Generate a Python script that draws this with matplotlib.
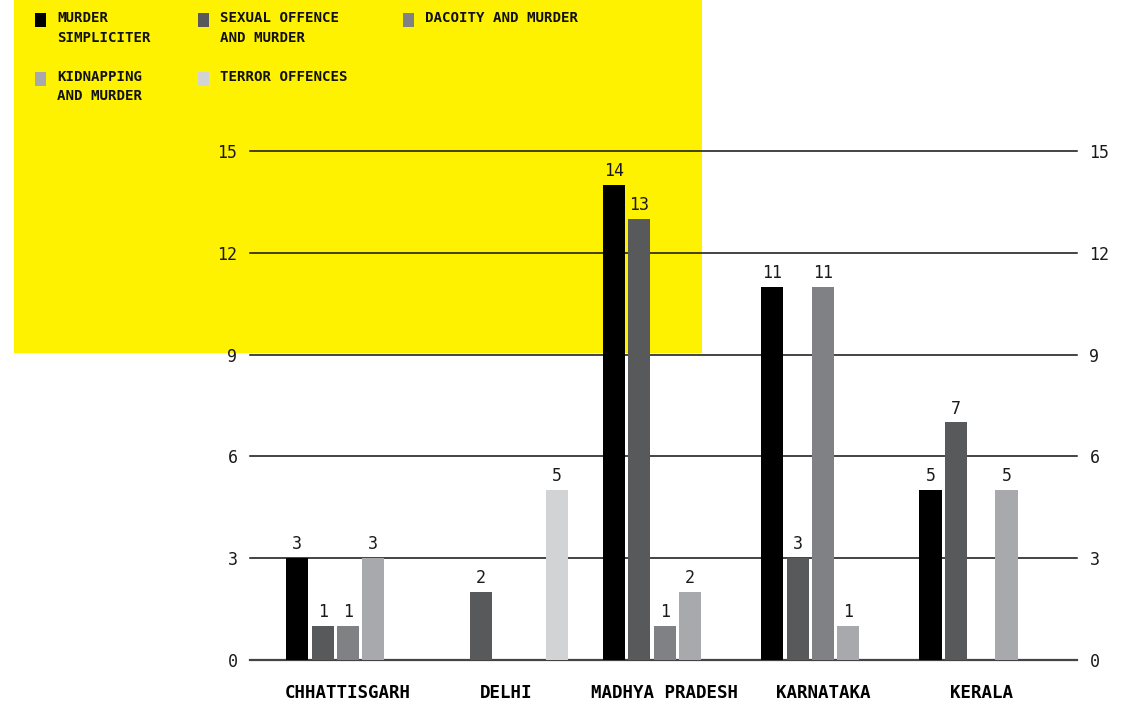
import matplotlib
matplotlib.use("Agg")
import matplotlib.pyplot as plt
from matplotlib.patches import Rectangle
import numpy as np

states = ["CHHATTISGARH", "DELHI", "MADHYA PRADESH", "KARNATAKA", "KERALA"]
series = ["MURDER\nSIMPLICITER", "SEXUAL OFFENCE\nAND MURDER", "DACOITY AND MURDER",
          "KIDNAPPING\nAND MURDER", "TERROR OFFENCES"]
murder_simpliciter = [3, 0, 14, 11, 5]
sexual_offence = [1, 2, 13, 3, 7]
dacoity = [1, 0, 1, 11, 0]
kidnapping = [3, 0, 2, 1, 5]
terror = [0, 5, 0, 0, 0]
values = [murder_simpliciter, sexual_offence, dacoity, kidnapping, terror]
colors = ["#000000", "#58595b", "#808184", "#a7a9ac", "#d1d3d4"]
yticks = [0, 3, 6, 9, 12, 15]

W, H = 1133, 702
fig = plt.figure(figsize=(W / 100, H / 100), dpi=100)
fig.patch.set_facecolor("white")

# yellow panel behind chart
fig.patches.append(Rectangle((14 / W, 1 - 353 / H), (702 - 14) / W, 353 / H,
                             transform=fig.transFigure, facecolor="#fff200",
                             edgecolor="none", zorder=0))

ax = fig.add_axes([250 / W, 1 - 660 / H, (1077 - 250) / W, (660 - 151) / H])
ax.set_facecolor("none")
ax.set_zorder(2)

mono = "DejaVu Sans Mono"
x = np.arange(len(states))
step = 0.16
bw = 0.14
for j, (vals, col) in enumerate(zip(values, colors)):
    pos = x + (j - 2) * step
    ax.bar(pos, vals, width=bw, color=col, zorder=3)
    for p, v in zip(pos, vals):
        if v > 0:
            ax.annotate(str(v), (p, v), xytext=(0, 3.5), textcoords="offset points",
                        ha="center", va="bottom", fontsize=12, family=mono,
                        color="#1a1a1a", zorder=4)

ax.set_xlim(-0.619, 4.605)
ax.set_ylim(0, 15)
ax.set_yticks(yticks)
ax.set_yticklabels([str(t) for t in yticks])
ax.set_xticks(x)
ax.set_xticklabels(states, fontsize=12.6, fontweight="bold", family=mono)
for s in ax.spines.values():
    s.set_visible(False)
ax.tick_params(axis="x", length=0, pad=17)
ax.tick_params(axis="y", length=0, labelsize=12, labelleft=True, labelright=True,
               labelcolor="#1a1a1a")
for lab in ax.get_yticklabels():
    lab.set_family(mono)
ax.yaxis.set_tick_params(which="major", pad=9)
ax.grid(axis="y", color="#111111", linewidth=1.1, zorder=1)
ax.grid(axis="x", visible=False)
ax.set_axisbelow(True)
for gl in ax.get_ygridlines():
    gl.set_clip_on(False)
ax.get_ygridlines()[0].set_color("#444444")
ax.get_ygridlines()[0].set_linewidth(1.6)

# legend (manual layout)
leg_cols = [35, 198, 403]
leg_rows = [13, 72]
order = [(0, 0), (0, 1), (0, 2), (1, 0), (1, 1)]
for (r, c), lab, col in zip(order, series, colors):
    mx = leg_cols[c]
    my = leg_rows[r]
    fig.patches.append(Rectangle((mx / W, 1 - (my + 14) / H), 11 / W, 14 / H,
                                 transform=fig.transFigure, facecolor=col,
                                 edgecolor="none", zorder=1))
    fig.text((mx + 22) / W, 1 - (my - 2) / H, lab, ha="left", va="top",
             fontsize=10.2, fontweight="bold", family=mono, linespacing=1.5,
             color="#111111", zorder=2)

fig.savefig("out.png", dpi=100)
